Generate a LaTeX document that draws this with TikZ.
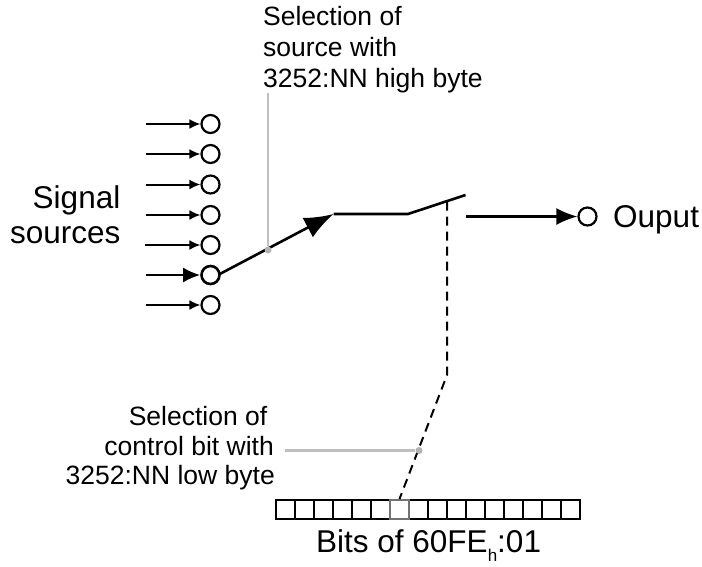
\documentclass[tikz,border=0pt]{standalone}
\usepackage{fontspec}
\setmainfont{Liberation Sans}
\usetikzlibrary{arrows.meta}
\tikzset{
  terminal/.style={circle,draw=black,line width=2.2pt,fill=white,inner sep=0pt,minimum size=18pt},
  active/.style={terminal,line width=2.6pt},
  inwire/.style={draw=black,line width=2pt,-{Latex[length=11pt,width=10pt]}},
  bigwire/.style={draw=black,line width=2.6pt,-{Latex[length=29pt,width=22pt]}},
  outwire/.style={draw=black,line width=2.2pt,-{Latex[length=21pt,width=17pt]}},
  swline/.style={draw=black,line width=2.6pt},
  dashline/.style={draw=black,line width=2pt,dash pattern=on 9pt off 6pt},
  pointer/.style={draw=black!25,line width=2.2pt},
  pdot/.style={circle,fill=black!30,inner sep=0pt,minimum size=7pt},
  bitcell/.style={draw=black,line width=2pt,minimum size=19pt,inner sep=0pt,fill=white},
  bitsel/.style={bitcell,draw=black!55},
  biglabel/.style={font=\fontsize{31.5}{35}\selectfont,inner sep=0pt},
  smalllabel/.style={font=\fontsize{26.5}{31}\selectfont,inner sep=0pt},
}
\begin{document}
\begin{tikzpicture}[x=1pt,y=-1pt]
\useasboundingbox (0,0) rectangle (702,566);
% wires with terminals
\foreach \n/\y/\xs in {a/124/146,b/154/146,c/184.5/146,d/215/146,e/245/145,g/305/146}{
  \node[terminal] (t\n) at (210.5,\y) {};
  \coordinate (s\n) at (\xs,\y);
  \draw[inwire] (s\n) -- (t\n);
}
\node[active] (tf) at (210.5,275) {};
\coordinate (sf) at (146,275);
\draw[inwire,line width=2.4pt,-{Latex[length=17pt,width=15pt]}] (sf) -- (tf);
% switch
\coordinate (sw1) at (333.5,214);
\coordinate (sw2) at (408,214);
\coordinate (sw3) at (465.5,195);
\coordinate (swm) at (447,201.5);
\draw[bigwire] (tf.east) ++(-1,-1) coordinate (tfe) (tfe) -- (sw1);
\draw[swline] (sw1) -- (sw2) -- (sw3);
% output
\node[terminal,minimum size=18pt] (tout) at (587.5,216.5) {};
\coordinate (os) at (466,216.5);
\draw[outwire] (os) -- (tout);
\node[biglabel,anchor=base west] (lout) at (613,227) {Ouput};
% sources label
\node[biglabel,anchor=base east] (l1) at (120.5,208) {Signal};
\node[biglabel,anchor=base east] (l2) at (120.5,243) {sources};
% bit register
\foreach \i in {0,...,15}{
  \node[bitcell] (b\i) at ({285.5+19*\i},509.5) {};
}
\node[bitsel] (b6) at (399.5,509.5) {};
% dashed control
\coordinate (d1) at (447,375);
\draw[dashline] (swm) -- (d1) -- (b6.north);
% pointers
\coordinate (p1s) at (268,93);
\node[pdot] (p1) at (268,250) {};
\draw[pointer] (p1s) -- (p1);
\coordinate (p2s) at (285,450.5);
\node[pdot] (p2) at (419,450.5) {};
\draw[pointer] (p2s) -- (p2);
% small labels
\node[smalllabel,anchor=base west] (u1) at (263,25) {Selection of};
\node[smalllabel,anchor=base west] (u2) at (263,56.5) {source with};
\node[smalllabel,anchor=base west] (u3) at (263,87) {3252:NN high byte};
\node[smalllabel,anchor=base east] (v1) at (267.5,425) {Selection of};
\node[smalllabel,anchor=base east] (v2) at (274,455) {control bit with};
\node[smalllabel,anchor=base east] (v3) at (275,484) {3252:NN low byte};
\node[biglabel,anchor=base west] (bl) at (316,552) {Bits of 60FE\raisebox{-9pt}{\fontsize{17}{20}\selectfont h}:01};
\end{tikzpicture}
\end{document}
